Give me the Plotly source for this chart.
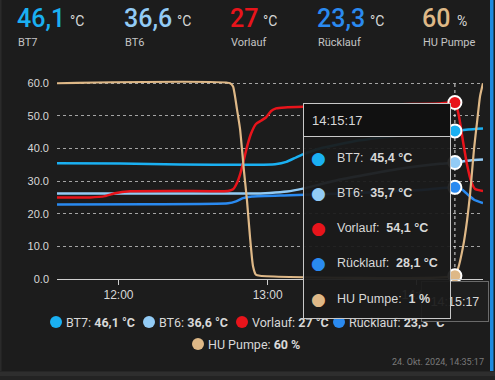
import plotly.graph_objects as go

# ---------------- data ----------------
series_names = ["BT7", "BT6", "Vorlauf", "Rücklauf", "HU Pumpe"]
series_colors = ["#1ab0f2", "#92cbf5", "#e8141b", "#2a8af0", "#deb887"]
series_units = ["°C", "°C", "°C", "°C", "%"]
current_values = ["46,1", "36,6", "27", "23,3", "60"]

D = "2024-10-24 "
bt7_t = ["11:35:17", "12:00:35", "12:24:47", "12:52:53", "13:03:00", "13:07:30", "13:11:30", "13:14:10",
         "13:21:05", "13:37:05", "13:53:11", "14:09:17", "14:15:17", "14:20:35", "14:26:35"]
bt7_v = [35.5, 35.4, 35.1, 35.0, 35.2, 35.9, 37.3, 38.2, 40.0, 42.5, 44.0, 45.1, 45.4, 45.8, 46.1]

bt6_t = ["11:35:17", "12:32:47", "12:52:53", "13:00:53", "13:07:47", "13:14:11", "13:29:05", "13:53:11",
         "14:09:17", "14:15:17", "14:21:23", "14:26:35"]
bt6_v = [26.2, 26.2, 26.2, 26.4, 26.8, 27.7, 30.5, 33.8, 35.3, 35.7, 36.3, 36.6]

vl_t = ["11:35:17", "11:48:34", "11:54:35", "11:58:35", "12:04:40", "12:24:47", "12:44:05", "12:46:05",
        "12:47:41", "12:48:53", "12:50:05", "12:51:41", "12:53:17", "12:55:17", "12:57:17", "12:59:17",
        "13:01:23", "13:03:23", "13:06:59", "13:29:05", "13:53:11", "14:09:17", "14:15:17", "14:16:53",
        "14:18:35", "14:20:11", "14:21:47", "14:23:23", "14:26:35"]
vl_v = [25.0, 25.0, 25.4, 26.3, 26.9, 27.0, 27.0, 27.5, 29.5, 32.0, 35.5, 40.5, 44.5, 47.5, 48.5, 49.5,
        51.5, 52.3, 52.6, 53.2, 53.6, 53.8, 54.1, 50.0, 42.0, 35.0, 30.0, 27.6, 27.0]

rl_t = ["11:35:17", "12:12:41", "12:44:05", "12:47:17", "12:50:05", "12:53:41", "13:08:59", "13:33:05",
        "14:01:17", "14:15:17", "14:18:11", "14:20:35", "14:22:59", "14:26:35"]
rl_v = [22.8, 22.9, 23.2, 23.8, 24.8, 25.3, 25.7, 26.3, 27.3, 28.1, 27.4, 25.8, 24.3, 23.3]

hu_t = ["11:35:17", "12:44:53", "12:46:05", "12:47:40", "12:48:53", "12:50:29", "12:51:41", "12:52:53",
        "12:54:05", "12:55:17", "12:56:53", "14:15:17", "14:16:29", "14:18:35", "14:20:11", "14:21:23",
        "14:22:59", "14:24:11", "14:25:23", "14:26:35"]
hu_v = [60, 60, 59, 52, 46, 33, 24, 13, 4, 1.3, 1, 1, 3, 10, 18, 26, 40, 48, 56, 60]

series_t = [bt7_t, bt6_t, vl_t, rl_t, hu_t]
series_v = [bt7_v, bt6_v, vl_v, rl_v, hu_v]

cross_time = "14:15:17"
cross_values = [45.4, 35.7, 54.1, 28.1, 1]
cross_decimals = [1, 1, 1, 1, 0]

y_ticks = [0, 10, 20, 30, 40, 50, 60]
y_tick_labels = ["0.0", "10.0", "20.0", "30.0", "40.0", "50.0", "60.0"]
x_start, x_end = "11:35:17", "14:26:35"
timestamp = "24. Okt. 2024, 14:35:17"

# ---------------- layout helpers ----------------
W, H = 495, 380
L, R, T, B = 57, 12, 80, 101
PW, PH = W - L - R, H - T - B
BG = "#1c1c1c"
TXT = "#d8d8d8"


def px(X):
    return (X - L) / PW


def py(Y):
    return (H - B - Y) / PH


fig = go.Figure()
widths = [2.5, 2.5, 2.5, 2.5, 2.2]
for name, col, ts, vs, w in zip(series_names, series_colors, series_t, series_v, widths):
    fig.add_trace(go.Scatter(
        x=[D + t for t in ts], y=vs, mode="lines", name=name,
        line=dict(color=col, width=w, shape="spline", smoothing=0.5),
        hoverinfo="skip", showlegend=False))

fig.add_trace(go.Scatter(
    x=[D + cross_time] * len(cross_values), y=cross_values, mode="markers",
    marker=dict(size=13, color=series_colors, line=dict(color="white", width=2)),
    cliponaxis=False, hoverinfo="skip", showlegend=False))

shapes = []
# card decorations
shapes.append(dict(type="rect", xref="paper", yref="paper", x0=px(490), x1=px(493.5), y0=py(0), y1=py(371),
                   fillcolor="#1d8be0", line=dict(width=0), layer="below"))
shapes.append(dict(type="rect", xref="paper", yref="paper", x0=px(0), x1=px(495), y0=py(380), y1=py(371.5),
                   fillcolor="#232323", line=dict(width=0), layer="below"))
shapes.append(dict(type="rect", xref="paper", yref="paper", x0=px(0), x1=px(495), y0=py(376), y1=py(371.5),
                   fillcolor="#2e2e2e", line=dict(width=0), layer="below"))
shapes.append(dict(type="rect", xref="paper", yref="paper", x0=px(0), x1=px(1.5), y0=py(371), y1=py(0),
                   fillcolor="#2a2a2a", line=dict(width=0), layer="below"))
# crosshair
shapes.append(dict(type="line", xref="x", yref="y", x0=D + cross_time, x1=D + cross_time, y0=0, y1=60,
                   line=dict(color="rgba(255,255,255,0.85)", width=1, dash="dot"), layer="below"))

annotations = []
# header
hx = [16, 123, 229, 316, 421]
ux = [68, 175, 261, 368, 455]
for i in range(5):
    annotations.append(dict(xref="paper", yref="paper", x=px(hx[i] - 1), y=py(18), xanchor="left", yanchor="middle",
                            text=current_values[i], showarrow=False,
                            font=dict(family="Roboto", size=25, color=series_colors[i], weight=500)))
    annotations.append(dict(xref="paper", yref="paper", x=px(ux[i]), y=py(21), xanchor="left", yanchor="middle",
                            text=series_units[i], showarrow=False,
                            font=dict(family="Roboto", size=14, color=TXT)))
    annotations.append(dict(xref="paper", yref="paper", x=px(hx[i]), y=py(43), xanchor="left", yanchor="middle",
                            text=series_names[i], showarrow=False,
                            font=dict(family="Roboto", size=11, color="#c4c4c4")))

# legend
leg_dot = [(56, 322), (149, 322), (242, 322), (339, 322), (198, 344)]
for i in range(5):
    X, Y = leg_dot[i]
    shapes.append(dict(type="circle", xref="paper", yref="paper", xsizemode="pixel", ysizemode="pixel",
                       xanchor=px(X), yanchor=py(Y), x0=-6, x1=6, y0=-6, y1=6,
                       fillcolor=series_colors[i], line=dict(width=0)))
    annotations.append(dict(xref="paper", yref="paper", x=px(X + 8), y=py(Y), xanchor="left", yanchor="middle",
                            text=f"{series_names[i]}: <b>{current_values[i]} {series_units[i]}</b>",
                            showarrow=False, font=dict(family="Roboto", size=12.5, color=TXT)))

annotations.append(dict(xref="paper", yref="paper", x=px(486), y=py(362), xanchor="right", yanchor="middle",
                        text=timestamp, showarrow=False, font=dict(family="Roboto", size=9, color="#7a7a7a")))

# x-axis hover label
annotations.append(dict(xref="paper", yref="paper", x=px(455), y=py(301), xanchor="center", yanchor="middle",
                        text=cross_time, showarrow=False, width=66, height=39, borderpad=0,
                        bgcolor="#1e1e1e", bordercolor="#6a6a6a", borderwidth=1,
                        font=dict(family="Liberation Sans", size=12.5, color=TXT)))

# tooltip
annotations.append(dict(xref="paper", yref="paper", x=px(377), y=py(211), xanchor="center", yanchor="middle",
                        text=" ", showarrow=False, width=146, height=214, borderpad=0,
                        bgcolor="rgba(27,27,27,0.94)", bordercolor="#c8c8c8", borderwidth=1))
annotations.append(dict(xref="paper", yref="paper", x=px(377), y=py(120), xanchor="center", yanchor="middle",
                        text=" ", showarrow=False, width=146, height=32, borderpad=0,
                        bgcolor="#111111", bordercolor="#c8c8c8", borderwidth=1))
annotations.append(dict(xref="paper", yref="paper", x=px(310), y=py(120), xanchor="left", yanchor="middle",
                        text=cross_time, showarrow=False,
                        font=dict(family="Liberation Sans", size=13, color=TXT)))
row_y = [157.7, 192.7, 228.3, 263.3, 299.3]
for i in range(5):
    val = f"{cross_values[i]:.{cross_decimals[i]}f}".replace(".", ",")
    annotations.append(dict(xref="paper", yref="paper", x=px(318), y=py(row_y[i]), xanchor="center",
                            yanchor="middle", text="●", showarrow=False,
                            font=dict(family="DejaVu Sans", size=17, color=series_colors[i])))
    annotations.append(dict(xref="paper", yref="paper", x=px(335), y=py(row_y[i]), xanchor="left",
                            yanchor="middle",
                            text=f"{series_names[i]}:\u00a0\u00a0<b>{val} {series_units[i]}</b>",
                            showarrow=False, font=dict(family="Liberation Sans", size=12.5, color=TXT)))

fig.update_layout(
    width=W, height=H, margin=dict(l=L, r=R, t=T, b=B),
    paper_bgcolor=BG, plot_bgcolor="rgba(0,0,0,0)",
    shapes=shapes, annotations=annotations, showlegend=False,
    xaxis=dict(type="date", range=[D + x_start, D + x_end], showgrid=False, zeroline=False,
               showline=True, linecolor="#cfcfcf", linewidth=1,
               ticks="outside", ticklen=5, tickcolor="#cfcfcf",
               tickformat="%H:%M", dtick=3600000, tick0=D + "12:00:00",
               tickfont=dict(family="Liberation Sans", size=12, color=TXT)),
    yaxis=dict(range=[0, 61], tickvals=y_ticks, ticktext=y_tick_labels, showgrid=True,
               gridcolor="rgba(255,255,255,0.6)", griddash="dot", gridwidth=1, zeroline=False,
               ticks="", ticklabelstandoff=7,
               tickfont=dict(family="Liberation Sans", size=11, color=TXT)),
)

fig.write_html("out.html", config={"displayModeBar": False},
               post_script="document.body.style.margin='0px';document.body.style.background='#1c1c1c';")
